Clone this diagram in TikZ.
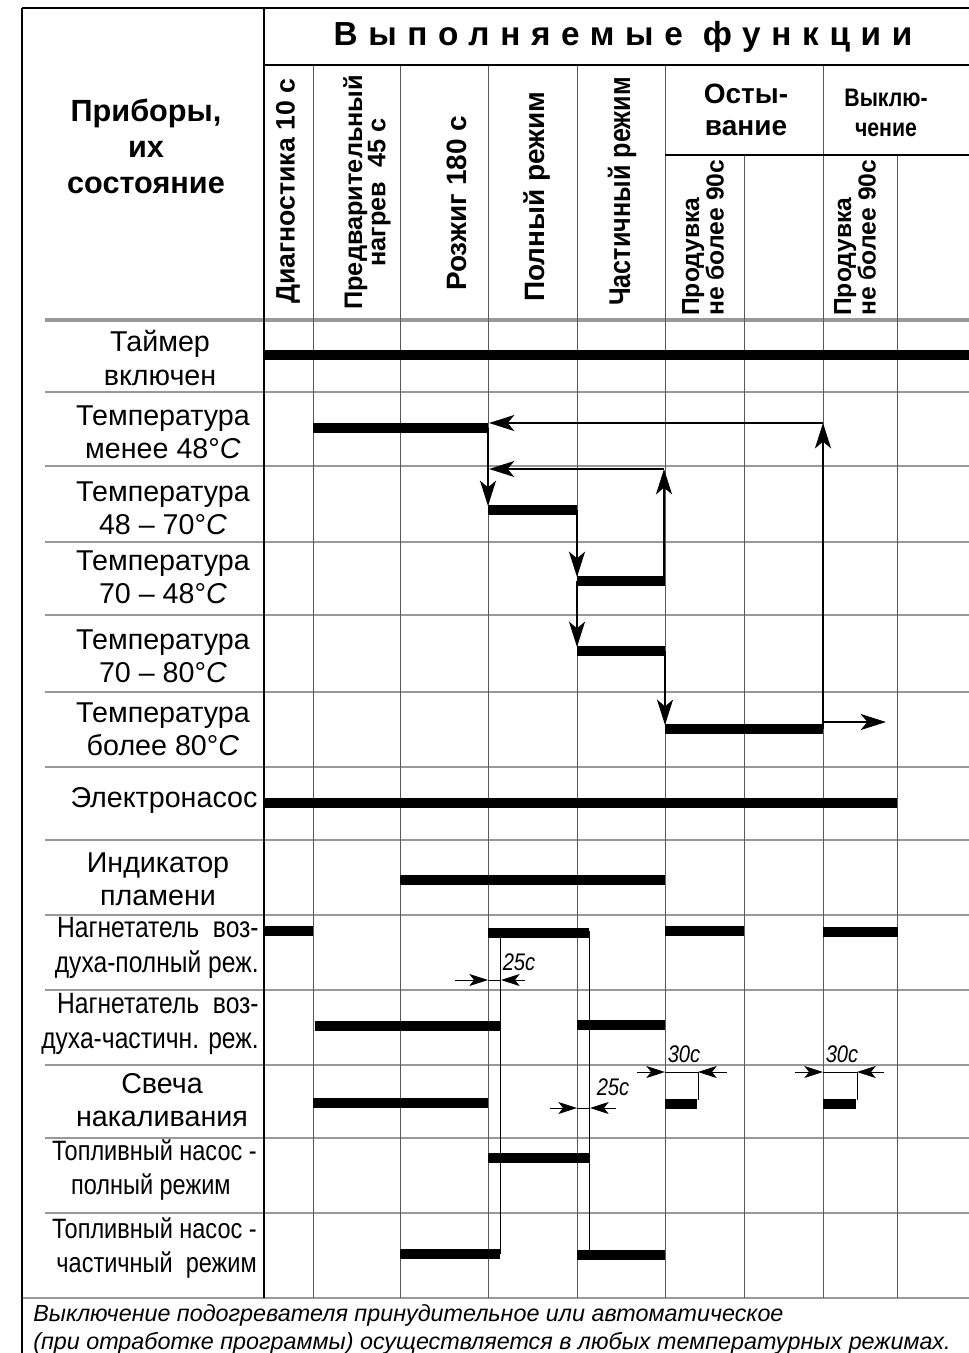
\documentclass[tikz,border=0pt]{standalone}
\usepackage{fontspec}
\setmainfont{Liberation Sans}
\newfontfamily\narrowfont[FakeStretch=0.84]{Liberation Sans}
\newfontfamily\spacedfont[LetterSpace=32]{Liberation Sans}
\usetikzlibrary{arrows.meta}

\tikzstyle{bar} = [line width=7.8pt]
\tikzstyle{rowline} = [draw=black!40, line width=1.5pt]
\tikzstyle{colline} = [draw=black!65, line width=0.7pt]
\tikzstyle{frame} = [line width=2.2pt]
\tikzstyle{flow} = [line width=1.8pt, -{Stealth[length=19pt,width=12pt,inset=5pt]}]
\tikzstyle{dim} = [line width=0.7pt, -{Stealth[length=14pt,width=9pt,inset=3.5pt]}]
\tikzstyle{device} = [align=center, inner sep=0pt, font=\fontsize{21.5}{25}\selectfont]
\tikzstyle{narrowdevice} = [align=right, anchor=east, inner sep=0pt, font=\narrowfont\fontsize{22}{26}\selectfont]
\tikzstyle{function} = [rotate=90, anchor=west, inner sep=0pt, font=\bfseries\fontsize{21}{21}\selectfont]
\tikzstyle{purge} = [rotate=90, anchor=west, inner sep=0pt, align=left, font=\bfseries\fontsize{18.5}{17}\selectfont]
\tikzstyle{timing} = [inner sep=0pt, font=\narrowfont\itshape\fontsize{18}{18}\selectfont]

\begin{document}
\begin{tikzpicture}[x=0.75pt, y=-0.75pt]
	\useasboundingbox (0,0) rectangle (969,1353);
	
	% grid
	\foreach \y in {392,466,542,615,692,767,840,915,990,1065,1138,1213}
		\draw[rowline] (45,\y) -- (969,\y);
	\draw[rowline, line width=3pt] (45,320) -- (969,320);
	\draw[rowline, line width=2.2pt] (22,1298) -- (969,1298);
	\foreach \x in {313,400,488,577,665,823}
		\draw[colline] (\x,65) -- (\x,1298);
	\foreach \x in {744,897}
		\draw[colline] (\x,155) -- (\x,1298);
	\draw[line width=1.2pt] (264,65) -- (969,65);
	\draw[line width=1pt] (665,155) -- (969,155);
	\draw[frame] (22,8) -- (969,8);
	\draw[frame] (22,8) -- (22,1353);
	\draw[frame] (264,8) -- (264,1298);
	
	% header
	\node[inner sep=0pt, font=\spacedfont\bfseries\fontsize{25}{25}\selectfont] (title) at (623,37) {Выполняемые функции};
	\node[device, font=\bfseries\fontsize{23}{27}\selectfont] (devices) at (146,146) {Приборы,\\их\\состояние};
	\node[function, font=\bfseries\fontsize{20}{20}\selectfont] (diag) at (288,304) {Диагностика 10 с};
	\node[function, align=center, font=\bfseries\fontsize{19}{17.5}\selectfont] (preheat) at (367,310) {Предварительный\\нагрев \ 45 с};
	\node[function] (ignite) at (457,291) {Розжиг 180 с};
	\node[function] (full) at (537,302) {Полный режим};
	\node[function, font=\narrowfont\bfseries\fontsize{22.5}{22}\selectfont] (part) at (622,306) {Частичный режим};
	\node[device, font=\bfseries\fontsize{21}{24}\selectfont] (cool) at (746,110) {Осты-\\вание};
	\node[device, font=\narrowfont\bfseries\fontsize{19}{23}\selectfont] (off) at (886,113) {Выклю-\\чение};
	\node[purge] (purge1) at (703,316) {Продувка\\не более 90с};
	\node[purge] (purge2) at (855,316) {Продувка\\не более 90с};
	
	% devices
	\node[device] (timer) at (160,358) {Таймер\\включен};
	\node[device] (t1) at (163,432) {Температура\\менее 48°\textit{C}};
	\node[device] (t2) at (163,508) {Температура\\48 -- 70°\textit{C}};
	\node[device] (t3) at (163,577) {Температура\\70 -- 48°\textit{C}};
	\node[device] (t4) at (163,656) {Температура\\70 -- 80°\textit{C}};
	\node[device] (t5) at (163,729) {Температура\\более 80°\textit{C}};
	\node[device] (pump) at (164,800) {Электронасос};
	\node[device] (flame) at (158,879) {Индикатор\\пламени};
	\node[narrowdevice] (blowfull) at (259,948) {Нагнетатель \ воз-\\духа-полный реж.};
	\node[narrowdevice] (blowpart) at (259,1024) {Нагнетатель \ воз-\\духа-частичн. реж.};
	\node[device] (plug) at (162,1100) {Свеча\\накаливания};
	\node[narrowdevice, font=\narrowfont\fontsize{21}{25}\selectfont] (fuelfull) at (257,1170) {Топливный насос -\\полный режим\ \ \ \ \ };
	\node[narrowdevice, font=\narrowfont\fontsize{21}{25}\selectfont] (fuelpart) at (257,1248) {Топливный насос -\\частичный \ режим};
	
	% bars
	\draw[bar] (264,355) -- (969,355);
	\draw[bar] (313,428) -- (488,428);
	\draw[bar] (488,510) -- (577,510);
	\draw[bar] (577,581) -- (665,581);
	\draw[bar] (577,651) -- (665,651);
	\draw[bar] (665,729) -- (823,729);
	\draw[bar] (264,803) -- (897,803);
	\draw[bar] (400,880) -- (665,880);
	\draw[bar] (264,931) -- (313,931);
	\draw[bar] (488,933) -- (589,933);
	\draw[bar] (665,931) -- (744,931);
	\draw[bar] (823,932) -- (898,932);
	\draw[bar] (315,1026) -- (500,1026);
	\draw[bar] (577,1025) -- (665,1025);
	\draw[bar] (313,1103) -- (488,1103);
	\draw[bar] (665,1104) -- (697,1104);
	\draw[bar] (823,1104) -- (856,1104);
	\draw[bar] (488,1158) -- (589,1158);
	\draw[bar] (400,1254) -- (500,1254);
	\draw[bar] (577,1255) -- (665,1255);
	
	% temperature transitions
	\draw[flow] (488,428) -- (488,506);
	\draw[flow] (577,510) -- (577,577);
	\draw[flow] (577,581) -- (577,647);
	\draw[flow] (665,651) -- (665,725);
	\draw[flow] (664,581) -- (664,469);
	\draw[flow, line width=1.4pt] (664,469) -- (489,469);
	\draw[flow] (823,729) -- (823,423);
	\draw[flow, line width=1.4pt] (823,423) -- (489,423);
	\draw[flow, line width=1.4pt] (823,722) -- (886,722);
	
	% delays
	\draw[colline, draw=black] (500,931) -- (500,1254);
	\draw[colline, draw=black] (589,931) -- (589,1254);
	\draw[dim] (455,980) -- (488,980);
	\draw[dim] (525,980) -- (501,980);
	\draw[line width=0.6pt] (488,980) -- (501,980);
	\node[timing] (d1) at (519,962) {25c};
	\draw[dim] (550,1108) -- (577,1108);
	\draw[dim] (616,1108) -- (590,1108);
	\draw[line width=0.6pt] (577,1108) -- (590,1108);
	\node[timing] (d2) at (613,1087) {25c};
	\draw[dim] (637,1072) -- (665,1072);
	\draw[dim] (727,1072) -- (698,1072);
	\draw[line width=0.6pt] (665,1072) -- (698,1072) -- (698,1100);
	\node[timing] (d3) at (684,1054) {30c};
	\draw[dim] (795,1072) -- (823,1072);
	\draw[dim] (884,1072) -- (857,1072);
	\draw[line width=0.6pt] (823,1072) -- (857,1072) -- (857,1100);
	\node[timing] (d4) at (842,1054) {30c};
	
	% footer
	\node[anchor=west, align=left, inner sep=0pt, font=\itshape\fontsize{17.5}{21}\selectfont] (note) at (33,1329) {Выключение подогревателя принудительное или автоматическое\\(при отработке программы) осуществляется в любых температурных режимах.};
\end{tikzpicture}
\end{document}
